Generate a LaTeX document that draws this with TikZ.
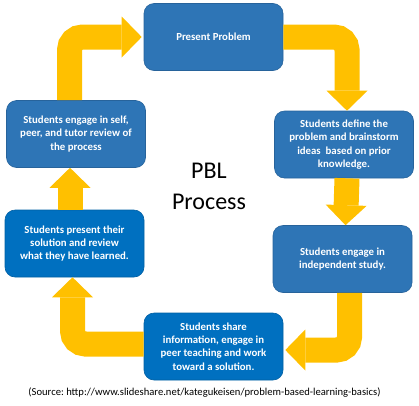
\documentclass[tikz,border=0pt]{standalone}
\usepackage{fontspec}
\setmainfont{Carlito}
\usetikzlibrary{arrows.meta, positioning}
\definecolor{boxblue}{RGB}{46, 117, 182}
\definecolor{deepblue}{RGB}{0, 112, 192}
\definecolor{flowyellow}{RGB}{255, 192, 0}
\frenchspacing

\begin{document}
\begin{tikzpicture}[x=1pt, y=-1pt,
  stepbox/.style={draw=#1!85!black, fill=#1, line width=0.6pt, rounded corners=10pt, minimum width=139pt, minimum height=67pt, inner sep=2pt, align=center, text=white, font=\fontsize{10.8}{13.4}\selectfont\bfseries},
  flow/.style={draw=flowyellow, line width=25pt, rounded corners=13pt, -{Triangle[length=20pt, width=41pt, line width=0pt]}}]

  \useasboundingbox (0,0) rectangle (419,405);

  % Steps of the cycle
  \node[stepbox=boxblue] (present) at (213.5, 37) {Present Problem};
  \node[stepbox=boxblue] (define) at (344, 144.5) {Students define the\\problem and brainstorm\\ideas\ \ based on prior\\knowledge.};
  \node[stepbox=boxblue] (indep) at (342.5, 259) {Students engage in\\independent study.};
  \node[stepbox=deepblue] (share) at (213.5, 346.5) {Students share\\information, engage in\\peer teaching and work\\toward a solution.};
  \node[stepbox=deepblue] (solution) at (74.5, 243.5) {Students present their\\solution and review\\what they have learned.};
  \node[stepbox=boxblue] (review) at (76, 134) {Students engage in self,\\peer, and tutor review of\\the process};

  % Title in the middle
  \node[font=\fontsize{24}{31}\selectfont, align=center] (title) at (209, 186) {PBL\\Process};

  % Arrows between the steps
  \draw[flow, shorten >=2pt] ([xshift=-6.5pt]review.north) |- (present.west);
  \draw[flow] (present.east) -| ([xshift=3pt]define.north);
  \draw[flow] ([xshift=3pt]define.south) -- ([xshift=3pt]indep.north);
  \draw[flow, shorten >=2pt] ([xshift=7pt]indep.south) |- ([yshift=-3.5pt]share.east);
  \draw[flow] ([yshift=2.5pt]share.west) -| ([xshift=-2pt]solution.south);
  \draw[flow] ([xshift=-4.5pt]solution.north) -- ([xshift=-6pt]review.south);

  % Source line
  \node[font=\fontsize{10.6}{12}\selectfont] (source) at (204.5, 393) {(Source: http://www.slideshare.net/kategukeisen/problem-based-learning-basics)};
\end{tikzpicture}
\end{document}
